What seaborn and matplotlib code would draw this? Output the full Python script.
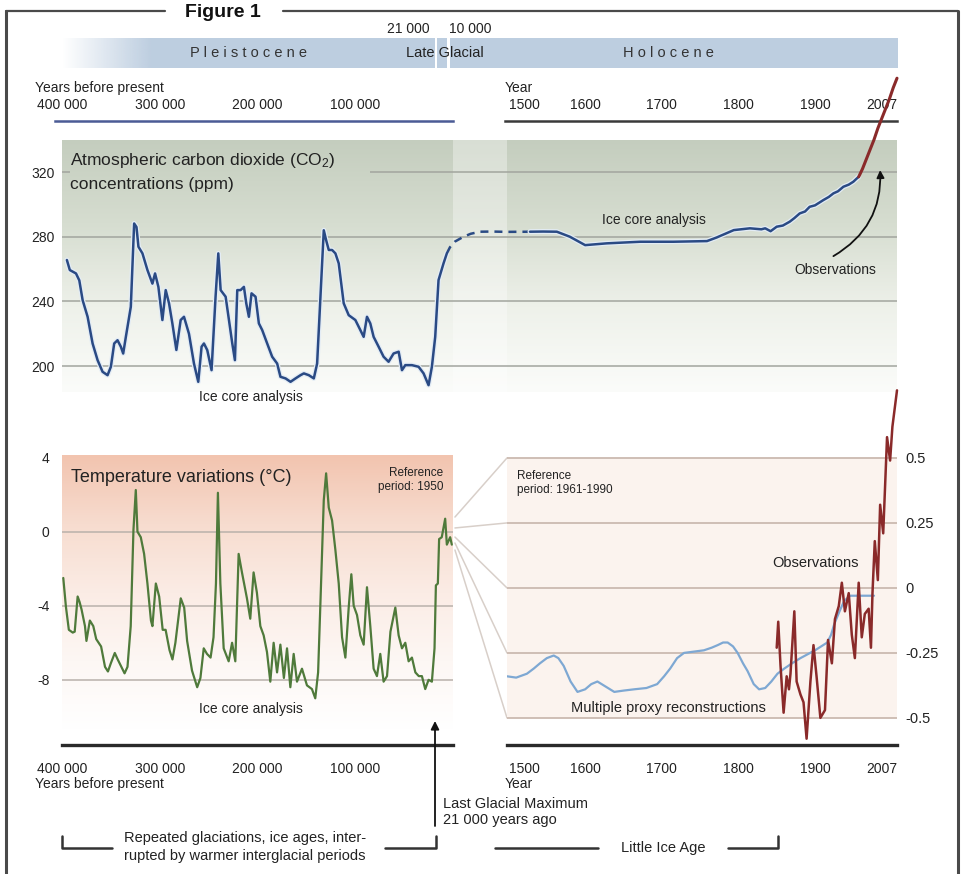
import numpy as np
import matplotlib.pyplot as plt
import seaborn as sns
import matplotlib.patheffects as pe
from matplotlib.colors import LinearSegmentedColormap, to_rgb
from matplotlib.patches import Rectangle, ConnectionPatch

# ---- values ----
# CO2 from ice cores, thousands of years before present
co2_kyr = [395, 392, 385.7, 382.3, 378.9, 373.8, 368.7, 363.6, 358.5, 353.4, 350, 346.6, 343.2,
           339.8, 337.4, 334.7, 329.6, 326.2, 323.8, 321.8, 317.7, 312.6, 307.5, 304.8, 301.4,
           297.3, 293.9, 290.5, 287.1, 283, 278.6, 275.2, 270.1, 265, 260.6, 257.2, 254.8, 251.4,
           247, 242.9, 240.1, 237.7, 232.6, 229.2, 225.8, 223.1, 220.7, 217.3, 213.9, 211.5, 208.8,
           206.1, 202, 198.6, 195.2, 190.1, 185, 179.9, 176.5, 171.3, 166.2, 161.1, 156, 152.6,
           147.5, 142.4, 139, 135.6, 132.2, 129.8, 127.1, 123.7, 120.3, 116.9, 111.8, 106.7, 99.9,
           94.8, 91.4, 88, 84.6, 81.2, 76.1, 71, 65.9, 60.8, 55.6, 52.2, 48.8, 42, 35.2, 30.1, 25,
           21.6, 18.2, 14.8, 9.7, 6.3]
co2_ppm = [265.6, 259.4, 257.3, 253, 240.8, 230.5, 214, 203.7, 196.5, 194.4, 199.6, 214, 216,
           212, 207.8, 218, 236.7, 288.2, 286, 273.8, 269.7, 259.4, 251, 257.3, 249, 228.5, 247,
           238.8, 226.4, 210, 228.5, 230.5, 220, 201.6, 190.3, 212, 214, 209.9, 197.5, 242.9,
           269.7, 247, 242.9, 228.5, 214, 203.7, 247, 247, 249, 238.8, 230.5, 245, 242.9, 226.4,
           222.3, 214, 205.8, 201.6, 193.4, 192.4, 190.3, 192.4, 194.4, 195.5, 194.4, 192.4,
           201.6, 242.9, 284, 277.9, 271.8, 271.8, 269.7, 263.5, 238.8, 231.5, 228.5, 222.3,
           218.1, 230.5, 226.4, 218.1, 212, 205.8, 202.7, 207.8, 208.9, 197.5, 200.6, 200.6,
           199.6, 195.5, 188.2, 199.6, 218.1, 253.2, 263.5, 269.7]
co2_bridge_kyr = [6.3, 3.1, -2, -10.2, -18, -27.6, -40, -55.2, -78.8]
co2_bridge_ppm = [269.7, 273.5, 277, 279.8, 281.8, 283.1, 283.2, 283.0, 283.1]

# CO2 since 1500
co2_year = [1528, 1545, 1563, 1580, 1600, 1628, 1672, 1715, 1759, 1772, 1794, 1815, 1830, 1835,
            1842, 1850, 1858, 1867, 1873, 1880, 1887, 1893, 1900, 1911, 1918, 1924, 1930, 1937,
            1944, 1950, 1957]
co2_ice = [283.1, 283.2, 283.1, 280.0, 274.8, 275.9, 276.9, 276.9, 277.3, 279.6, 284.1, 285.2,
           284.6, 285.2, 283.4, 286.2, 286.9, 289.3, 291.5, 294.4, 295.6, 298.5, 299.4, 302.7,
           304.6, 306.8, 308.1, 310.9, 312.2, 314.0, 317.1]
co2_obs_year = [1957, 1962, 1967, 1972, 1977, 1982, 1987, 1992, 1997, 2002, 2007]
co2_obs_ppm = [317, 322, 328, 334, 340, 347, 353, 359, 365, 372, 378]

# temperature from ice cores
temp_kyr = [398.7, 396, 393, 389, 387, 384, 382, 380, 376.5, 375, 371.5, 368, 365, 360, 356, 353,
            350, 346, 343, 336, 333, 329.7, 326.9, 324.5, 322.8, 319.4, 316, 312.6, 309, 307.5,
            304, 300.6, 297, 294, 290, 287, 284, 278.5, 275, 272, 267, 261.7, 258.4, 255, 251.7,
            248, 245, 242.5, 240.5, 238, 234.6, 229.5, 226, 222.7, 219.3, 215.9, 210.8, 207.4,
            204, 200.6, 197.1, 193.7, 190.3, 186.9, 183.5, 180, 176.6, 173, 169.8, 166.4, 163,
            159.6, 154.5, 149.4, 144.3, 140.9, 138, 135.6, 132.2, 129.8, 127.1, 123.7, 120.3,
            116.9, 113.5, 110.1, 106.7, 104, 101.6, 98.2, 94.8, 91.4, 88, 84.6, 81.2, 77.8, 74.4,
            71, 67.5, 64, 59, 55.6, 52.2, 48.8, 45.4, 42, 38.5, 35, 31.8, 28.4, 25, 21.6, 18.9,
            17.5, 15.5, 14.2, 11.5, 8, 6.3, 2.9, 1.2]
temp_ice = [-2.5, -4.05, -5.3, -5.45, -5.4, -3.5, -3.8, -4.2, -5.1, -5.9, -4.8, -5.1, -5.8, -6.2,
            -7.3, -7.55, -7.1, -6.55, -6.9, -7.65, -7.3, -5.1, 0.1, 2.25, 0.0, -0.3, -1.2, -2.8,
            -4.8, -5.1, -2.8, -3.5, -5.3, -5.3, -6.4, -6.9, -6.0, -3.6, -4.1, -5.9, -7.5, -8.4,
            -7.9, -6.3, -6.6, -6.8, -5.7, -2.8, 2.1, -2.8, -6.3, -7.0, -6.0, -7.0, -1.2, -2.2,
            -3.6, -4.7, -2.2, -3.3, -5.1, -5.6, -6.5, -8.1, -6.0, -7.6, -6.1, -7.9, -6.3, -8.4,
            -6.6, -8.1, -7.4, -8.3, -8.5, -9.0, -7.6, -3.8, 1.7, 3.15, 1.3, 0.6, -1.0, -2.8, -5.7,
            -6.8, -4.1, -2.3, -4.0, -4.5, -5.6, -6.1, -3.0, -5.1, -7.4, -7.8, -6.6, -8.1, -7.8,
            -5.4, -4.1, -5.6, -6.3, -6.0, -7.0, -6.8, -7.6, -7.8, -7.8, -8.5, -8.0, -8.1, -6.3,
            -2.9, -2.8, -0.4, -0.3, 0.7, -0.7, -0.3, -0.7]

# temperature since 1500
proxy_year = [1498, 1510, 1524, 1533, 1541, 1550, 1559, 1565, 1572, 1581, 1590, 1600, 1608, 1616,
              1627, 1638, 1650, 1664, 1680, 1694, 1703, 1711, 1720, 1729, 1742, 1755, 1765, 1773,
              1780, 1786, 1793, 1799, 1806, 1812, 1820, 1827, 1835, 1843, 1851, 1860, 1870, 1881,
              1900, 1916, 1921, 1925, 1932, 1938, 1946, 1977]
proxy_temp = [-0.34, -0.345, -0.33, -0.31, -0.29, -0.27, -0.26, -0.27, -0.30, -0.36, -0.40, -0.39,
              -0.37, -0.36, -0.38, -0.40, -0.395, -0.39, -0.385, -0.37, -0.34, -0.31, -0.27,
              -0.25, -0.245, -0.24, -0.23, -0.22, -0.21, -0.21, -0.225, -0.25, -0.29, -0.32,
              -0.37, -0.39, -0.385, -0.36, -0.33, -0.31, -0.29, -0.27, -0.24, -0.21, -0.18,
              -0.14, -0.09, -0.05, -0.03, -0.03]
obs_year = [1850, 1852, 1855, 1859, 1863, 1866, 1868, 1873, 1876, 1881, 1885, 1889, 1894, 1898,
            1902, 1907, 1913, 1917, 1922, 1926, 1931, 1935, 1939, 1944, 1948, 1952, 1957, 1961,
            1965, 1970, 1973, 1975, 1978, 1982, 1985, 1989, 1994, 1998, 2001, 2007]
obs_temp = [-0.23, -0.13, -0.30, -0.48, -0.34, -0.39, -0.33, -0.09, -0.36, -0.41, -0.44, -0.58,
            -0.36, -0.22, -0.34, -0.50, -0.47, -0.20, -0.29, -0.12, -0.07, 0.02, -0.09, -0.02,
            -0.18, -0.27, 0.02, -0.19, -0.10, -0.08, -0.23, -0.02, 0.18, 0.03, 0.32, 0.21, 0.58,
            0.49, 0.62, 0.76]

co2_ticks = [200, 240, 280, 320]
tl_ticks = [4, 0, -4, -8]
tr_ticks = [0.5, 0.25, 0, -0.25, -0.5]
tr_labels = ["0.5", "0.25", "0", "-0.25", "-0.5"]
kyr_ticks = [400, 300, 200, 100]
kyr_labels = ["400 000", "300 000", "200 000", "100 000"]
year_ticks = [1500, 1600, 1700, 1800, 1900, 2007]
fan_left = [0.79, 0.2, -0.29, -0.61, -0.99]   # where the fan lines leave the left panel (deg C)

# ---- style ----
sns.set_style("white")
plt.rcParams["font.family"] = ["Liberation Sans", "DejaVu Sans"]
plt.rcParams["mathtext.fontset"] = "custom"
plt.rcParams["mathtext.rm"] = "Liberation Sans"
plt.rcParams["mathtext.default"] = "regular"
TXT = "#222222"
CO2_BLUE = "#2a4a84"
RED = "#8a2a2a"
GREEN = "#4f7a3b"

W, H = 966, 874
fig = plt.figure(figsize=(W / 100, H / 100), dpi=100)


def box(x0, y0, x1, y1):
    return [x0 / W, 1 - y1 / H, (x1 - x0) / W, (y1 - y0) / H]


def bare(ax):
    for s in ax.spines.values():
        s.set_visible(False)
    ax.patch.set_visible(False)
    ax.set_xlabel("")
    ax.set_ylabel("")


def vgrad(ax, colors, extent):
    cmap = LinearSegmentedColormap.from_list("g", colors)
    ax.imshow(np.linspace(0, 1, 256)[:, None], cmap=cmap, aspect="auto",
              extent=extent, origin="upper", zorder=0)


CO2_LIM = (184.0, 339.8)
TL_LIM = (-10.71, 4.14)
TR_LIM = (-0.585, 0.569)
YR_LIM = (1498, 2007)
KYR_LIM = (400, 0)

# ---- CO2 background (spans both halves) ----
bg = fig.add_axes(box(62, 140, 897, 392), zorder=1)
vgrad(bg, ["#c4cdbe", "#d6ddd0", "#eef1ea", "#fbfcfa"], (0, 1, *CO2_LIM))
bg.axvspan((453 - 62) / 835, (507 - 62) / 835, color="white", alpha=0.35, lw=0)
bg.hlines([200, 240, 280], 0, 1, color="#a2a59e", lw=1.1)
bg.hlines([320, 320], [0, 0.369], [0.01, 1], color="#a2a59e", lw=1.1)
bg.set_xlim(0, 1)
bg.set_ylim(*CO2_LIM)
bg.axis("off")

# ---- CO2, ice ages ----
ax1 = fig.add_axes(box(62, 140, 453, 392), zorder=3)
halo = [pe.Stroke(linewidth=3.6, foreground="#e3ecf5"), pe.Normal()]
sns.lineplot(x=co2_kyr, y=co2_ppm, ax=ax1, color=CO2_BLUE, lw=1.8, estimator=None, sort=False)
ax1.lines[-1].set_path_effects(halo)
sns.lineplot(x=co2_bridge_kyr, y=co2_bridge_ppm, ax=ax1, color=CO2_BLUE, lw=1.8,
             estimator=None, sort=False)
ax1.lines[-1].set_linestyle((0, (3.2, 2.4)))
ax1.lines[-1].set_clip_on(False)
ax1.set_xlim(*KYR_LIM)
ax1.set_ylim(*CO2_LIM)
ax1.set_xticks([])
ax1.set_yticks(co2_ticks)
ax1.set_yticklabels([str(v) for v in co2_ticks])
ax1.tick_params(axis="y", length=0, pad=5, labelsize=10, labelcolor=TXT)
bare(ax1)

# ---- CO2, since 1500 ----
ax2 = fig.add_axes(box(507, 140, 897, 392), zorder=6)
sns.lineplot(x=co2_year, y=co2_ice, ax=ax2, color=CO2_BLUE, lw=1.8, estimator=None, sort=False)
ax2.lines[-1].set_path_effects(halo)
sns.lineplot(x=co2_obs_year, y=co2_obs_ppm, ax=ax2, color=RED, lw=2.2, estimator=None, sort=False)
ax2.lines[-1].set_clip_on(False)
ax2.set_xlim(*YR_LIM)
ax2.set_ylim(*CO2_LIM)
ax2.set_xticks([])
ax2.set_yticks([])
bare(ax2)
ax2.text(1926, 259.3, "Observations", ha="center", va="center", fontsize=10, color=TXT)
ax2.text(1690, 290.5, "Ice core analysis", ha="center", va="center", fontsize=10, color=TXT)
ax2.annotate("", xy=(1985, 321.2), xytext=(1924, 268),
             arrowprops=dict(arrowstyle="-|>", color="#111111", lw=1.3, mutation_scale=11,
                             shrinkA=0, shrinkB=0, connectionstyle="arc3,rad=0.3"))

# ---- temperature, ice ages ----
ax3 = fig.add_axes(box(62, 455, 453, 730), zorder=3)
vgrad(ax3, ["#f2c4af", "#f7dccf", "#fbece5", "#fdf7f4", "#ffffff"], (400, 0, *TL_LIM))
ax3.hlines([0, -4, -8], 400, 0, color="#b9b1ab", lw=1.1)
sns.lineplot(x=temp_kyr, y=temp_ice, ax=ax3, color=GREEN, lw=1.6, estimator=None, sort=False)
ax3.set_xlim(*KYR_LIM)
ax3.set_ylim(*TL_LIM)
ax3.set_xticks([])
ax3.set_yticks(tl_ticks)
ax3.set_yticklabels([str(v) for v in tl_ticks])
ax3.tick_params(axis="y", length=0, pad=9, labelsize=10, labelcolor=TXT)
bare(ax3)

# ---- temperature, since 1500 ----
ax4 = fig.add_axes(box(507, 440, 897, 740), zorder=6)
ax4.axhspan(-0.5, 0.5, color="#fbf3ee", lw=0, zorder=0)
ax4.hlines(tr_ticks, *YR_LIM, color="#cbbab0", lw=1.3, zorder=1)
sns.lineplot(x=proxy_year, y=proxy_temp, ax=ax4, color="#7ea8d3", lw=1.6, estimator=None, sort=False)
sns.lineplot(x=obs_year, y=obs_temp, ax=ax4, color=RED, lw=1.8, estimator=None, sort=False)
ax4.lines[-1].set_clip_on(False)
ax4.set_xlim(*YR_LIM)
ax4.set_ylim(*TR_LIM)
ax4.set_xticks([])
ax4.yaxis.tick_right()
ax4.set_yticks(tr_ticks)
ax4.set_yticklabels(tr_labels)
ax4.tick_params(axis="y", length=0, pad=6, labelsize=10.5, labelcolor=TXT)
bare(ax4)
ax4.text(1901, 0.096, "Observations", ha="center", va="center", fontsize=10.5, color=TXT)
ax4.text(1709, -0.46, "Multiple proxy reconstructions", ha="center", va="center",
         fontsize=10.5, color=TXT)
ax4.text(1511, 0.455, "Reference\nperiod: 1961-1990", ha="left", va="top", fontsize=8.5,
         color=TXT, linespacing=1.25)

# fan linking the two temperature scales
for yl, yr in zip(fan_left, tr_ticks):
    fig.add_artist(ConnectionPatch(xyA=(-2, yl), coordsA=ax3.transData, xyB=(YR_LIM[0], yr),
                                   coordsB=ax4.transData, color="#d8cfc9", lw=1.1))

# ---- axis strips ----
def strip(rect, lim, ticks, labels, side, color, lw, pad):
    ax = fig.add_axes(box(*rect), zorder=4)
    bare(ax)
    sp = "bottom" if side == "top" else "top"
    ax.spines[sp].set_visible(True)
    ax.spines[sp].set_color(color)
    ax.spines[sp].set_linewidth(lw)
    ax.set_xlim(*lim)
    ax.set_yticks([])
    ax.xaxis.set_ticks_position(side)
    ax.set_xticks(ticks)
    ax.set_xticklabels(labels)
    ax.tick_params(axis="x", length=0, pad=pad, labelsize=10, labelcolor=TXT)
    return ax


kyr_lim_top = (400 + (62 - 55) / 0.9775, 0)
strip((55, 118, 453, 121), kyr_lim_top, kyr_ticks, kyr_labels, "top", "#4b5b95", 1.8, 4)
yr_lim_r = (1498 - 2 / 0.766, 2007)
s2 = strip((505, 118, 897, 121), yr_lim_r, year_ticks, [str(v) for v in year_ticks],
           "top", "#3a3a3a", 1.8, 4)
s3 = strip((62, 745, 453, 748), KYR_LIM, kyr_ticks, kyr_labels, "bottom", "#2a2a2a", 2.4, 10)
s4 = strip((507, 745, 897, 748), YR_LIM, year_ticks, [str(v) for v in year_ticks],
           "bottom", "#2a2a2a", 2.4, 10)
for s in (s2, s4):
    lbls = s.get_xticklabels()
    lbls[0].set_ha("left")
    lbls[-1].set_ha("right")

# ---- pixel overlay for frame, epoch bar and notes ----
ov = fig.add_axes([0, 0, 1, 1], zorder=10)
ov.set_xlim(0, W)
ov.set_ylim(H, 0)
ov.axis("off")

FR = "#4a4a4a"
ov.plot([6, 6], [11, H], color=FR, lw=2.2)
ov.plot([958, 958], [11, H], color=FR, lw=2.2)
ov.plot([6, 165], [11, 11], color=FR, lw=1.6)
ov.plot([283, 958], [11, 11], color=FR, lw=1.6)
ov.text(223, 17, "Figure 1", ha="center", va="baseline", fontsize=14, fontweight="bold", color="#111")

EP = "#bdcee0"
ramp = np.ones((2, 100, 4))
ramp[..., :3] = to_rgb(EP)
ramp[..., 3] = np.linspace(0, 1, 100)[None, :]
ov.imshow(ramp, extent=(62, 152, 68, 38), aspect="auto", zorder=1)
ov.add_patch(Rectangle((151, 38), 284, 30, color=EP, lw=0))
ov.add_patch(Rectangle((437, 38), 10, 30, color=EP, lw=0))
ov.add_patch(Rectangle((450, 38), 448, 30, color=EP, lw=0))
ov.set_xlim(0, W)
ov.set_ylim(H, 0)
ov.text(248, 53, "P l e i s t o c e n e", ha="center", va="center", fontsize=10.5, color="#333")
ov.text(445, 53, "Late Glacial", ha="center", va="center", fontsize=10.5, color="#222")
ov.text(668, 53, "H o l o c e n e", ha="center", va="center", fontsize=10.5, color="#333")
ov.text(408, 29, "21 000", ha="center", va="center", fontsize=10, color=TXT)
ov.text(470, 29, "10 000", ha="center", va="center", fontsize=10, color=TXT)

ov.text(35, 88, "Years before present", ha="left", va="center", fontsize=10, color=TXT)
ov.text(505, 88, "Year", ha="left", va="center", fontsize=10, color=TXT)
ov.text(70, 160, "Atmospheric carbon dioxide (CO$_2$)", ha="left", va="center",
        fontsize=12.5, color=TXT)
ov.text(70, 184, "concentrations (ppm)", ha="left", va="center", fontsize=12.5, color=TXT)
ov.text(251, 397, "Ice core analysis", ha="center", va="center", fontsize=10, color=TXT)
ov.text(71, 478, "Temperature variations (°C)", ha="left", va="center", fontsize=13, color=TXT)
ov.text(443, 480, "Reference\nperiod: 1950", ha="right", va="center", fontsize=8.5,
        color=TXT, linespacing=1.25)
ov.text(251, 709, "Ice core analysis", ha="center", va="center", fontsize=10, color=TXT)

ov.text(35, 784, "Years before present", ha="left", va="center", fontsize=10, color=TXT)
ov.text(505, 784, "Year", ha="left", va="center", fontsize=10, color=TXT)
ov.text(443, 812, "Last Glacial Maximum\n21 000 years ago", ha="left", va="center",
        fontsize=10.5, color=TXT, linespacing=1.15)
ov.annotate("", xy=(435, 721), xytext=(435, 826),
            arrowprops=dict(arrowstyle="-|>", color="#111", lw=1.3, mutation_scale=12,
                            shrinkA=0, shrinkB=0))

BR = "#333333"
ov.plot([62, 62, 112], [836, 848, 848], color=BR, lw=1.8)
ov.plot([385, 436, 436], [848, 848, 836], color=BR, lw=1.8)
ov.text(245, 847, "Repeated glaciations, ice ages, inter-\nrupted by warmer interglacial periods",
        ha="center", va="center", fontsize=10.5, color=TXT, linespacing=1.3)
ov.plot([495, 598], [848, 848], color=BR, lw=1.8)
ov.plot([728, 778, 778], [848, 848, 836], color=BR, lw=1.8)
ov.text(663, 848, "Little Ice Age", ha="center", va="center", fontsize=10.5, color=TXT)

fig.savefig("out.png", dpi=100)
